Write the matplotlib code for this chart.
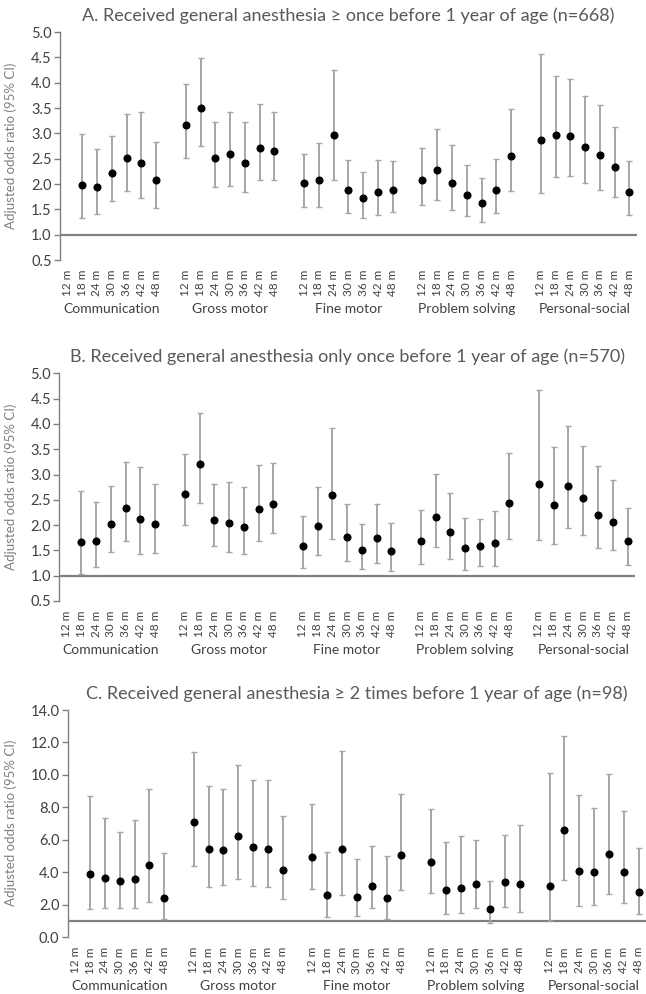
import numpy as np
import matplotlib
matplotlib.use('Agg')
import matplotlib.pyplot as plt
from matplotlib.transforms import blended_transform_factory

plt.rcParams['font.family'] = ['Lato', 'DejaVu Sans']

months = ['12 m', '18 m', '24 m', '30 m', '36 m', '42 m', '48 m']
domains = ['Communication', 'Gross motor', 'Fine motor', 'Problem solving', 'Personal-social']
nan = np.nan

# A. >= once (n=668)
a_or = [[nan, 1.99, 1.94, 2.22, 2.51, 2.42, 2.08],
        [3.17, 3.51, 2.51, 2.60, 2.42, 2.71, 2.66],
        [2.02, 2.07, 2.97, 1.88, 1.73, 1.84, 1.89],
        [2.08, 2.27, 2.03, 1.79, 1.62, 1.89, 2.55],
        [2.86, 2.97, 2.95, 2.74, 2.58, 2.33, 1.84]]
a_lo = [[nan, 1.32, 1.41, 1.66, 1.86, 1.72, 1.53],
        [2.52, 2.75, 1.95, 1.97, 1.84, 2.07, 2.07],
        [1.55, 1.54, 2.08, 1.43, 1.33, 1.38, 1.45],
        [1.59, 1.69, 1.49, 1.36, 1.25, 1.43, 1.87],
        [1.82, 2.14, 2.15, 2.03, 1.88, 1.74, 1.39]]
a_hi = [[nan, 2.99, 2.69, 2.95, 3.38, 3.43, 2.82],
        [3.98, 4.49, 3.22, 3.43, 3.23, 3.58, 3.43],
        [2.60, 2.81, 4.26, 2.47, 2.24, 2.47, 2.46],
        [2.71, 3.08, 2.77, 2.38, 2.11, 2.50, 3.49],
        [4.57, 4.13, 4.07, 3.73, 3.55, 3.13, 2.46]]

# B. only once (n=570)
b_or = [[nan, 1.66, 1.69, 2.02, 2.34, 2.12, 2.02],
        [2.61, 3.20, 2.11, 2.04, 1.97, 2.32, 2.42],
        [1.59, 1.98, 2.59, 1.77, 1.51, 1.74, 1.49],
        [1.68, 2.16, 1.87, 1.54, 1.58, 1.65, 2.43],
        [2.82, 2.39, 2.77, 2.53, 2.20, 2.07, 1.68]]
b_lo = [[nan, 1.03, 1.17, 1.47, 1.68, 1.43, 1.45],
        [2.01, 2.43, 1.58, 1.47, 1.42, 1.68, 1.84],
        [1.16, 1.41, 1.72, 1.30, 1.13, 1.26, 1.10],
        [1.23, 1.56, 1.33, 1.12, 1.19, 1.20, 1.73],
        [1.70, 1.63, 1.95, 1.80, 1.54, 1.50, 1.22]]
b_hi = [[nan, 2.68, 2.45, 2.78, 3.25, 3.14, 2.82],
        [3.40, 4.22, 2.82, 2.85, 2.76, 3.18, 3.22],
        [2.17, 2.76, 3.91, 2.41, 2.02, 2.41, 2.05],
        [2.30, 3.01, 2.64, 2.14, 2.12, 2.28, 3.42],
        [4.68, 3.54, 3.95, 3.57, 3.17, 2.89, 2.33]]

# C. >= 2 times (n=98)
c_or = [[nan, 3.92, 3.68, 3.45, 3.61, 4.46, 2.40],
        [7.08, 5.42, 5.40, 6.22, 5.54, 5.44, 4.17],
        [4.97, 2.61, 5.44, 2.51, 3.16, 2.40, 5.05],
        [4.64, 2.92, 3.06, 3.29, 1.75, 3.41, 3.26],
        [3.16, 6.61, 4.09, 4.00, 5.13, 4.02, 2.81]]
c_lo = [[nan, 1.77, 1.83, 1.81, 1.81, 2.18, 1.13],
        [4.41, 3.12, 3.20, 3.61, 3.16, 3.08, 2.34],
        [2.98, 1.27, 2.59, 1.31, 1.81, 1.15, 2.90],
        [2.75, 1.46, 1.52, 1.81, 0.90, 1.85, 1.54],
        [0.98, 3.53, 1.93, 2.01, 2.65, 2.14, 1.46]]
c_hi = [[nan, 8.73, 7.33, 6.49, 7.23, 9.16, 5.17],
        [11.40, 9.34, 9.14, 10.60, 9.69, 9.69, 7.45],
        [8.23, 5.26, 11.48, 4.83, 5.65, 5.01, 8.85],
        [7.91, 5.89, 6.22, 5.98, 3.47, 6.32, 6.92],
        [10.14, 12.40, 8.77, 7.99, 10.04, 7.76, 5.50]]

panels = [
    ('A. Received general anesthesia \u2265 once before 1 year of age (n=668)',
     a_or, a_lo, a_hi, (0.5, 5.0), np.arange(0.5, 5.01, 0.5),
     [0.0929, 0.7384, 0.893, 0.2294], 0.853),
    ('B. Received general anesthesia only once before 1 year of age (n=570)',
     b_or, b_lo, b_hi, (0.5, 5.0), np.arange(0.5, 5.01, 0.5),
     [0.0918, 0.3954, 0.891, 0.2290], 0.510),
    ('C. Received general anesthesia \u2265 2 times before 1 year of age (n=98)',
     c_or, c_lo, c_hi, (0.0, 14.0), np.arange(0.0, 14.01, 2.0),
     [0.1050, 0.0570, 0.895, 0.2287], 0.172),
]

fig = plt.figure(figsize=(6.46, 9.94), dpi=100)

x_pos = []
x_lab = []
for g in range(len(domains)):
    for i, m in enumerate(months):
        x_pos.append(g * 8 + i)
        x_lab.append(m)
x_pos = np.array(x_pos)

for title, v_or, v_lo, v_hi, ylim, yticks, rect, ylab_y in panels:
    ax = fig.add_axes(rect)
    y = np.array(v_or).ravel()
    lo = np.array(v_lo).ravel()
    hi = np.array(v_hi).ravel()
    ok = ~np.isnan(y)
    ax.errorbar(x_pos[ok], y[ok], yerr=[y[ok] - lo[ok], hi[ok] - y[ok]],
                fmt='o', color='black', ms=4.8, ecolor='#a6a6a6', elinewidth=1.4,
                capsize=2.4, capthick=1.0, zorder=3)
    ax.axhline(1.0, color='#808080', lw=1.6, zorder=2)

    ax.set_xlim(-0.5, 38.5)
    ax.set_ylim(*ylim)
    ax.set_yticks(yticks)
    ax.set_yticklabels([f'{t:.1f}' for t in yticks])
    ax.set_xticks(x_pos)
    ax.set_xticklabels(x_lab, rotation=90, fontsize=8.5, color='#404040')
    ax.tick_params(axis='x', length=0, pad=7)
    ax.tick_params(axis='y', direction='out', length=4, width=1, color='#808080',
                   labelsize=10.5, labelcolor='#404040', pad=2)
    for s in ['top', 'right', 'bottom']:
        ax.spines[s].set_visible(False)
    ax.spines['left'].set_color('#808080')
    ax.spines['left'].set_linewidth(1.0)
    ax.patch.set_alpha(0)

    trans = blended_transform_factory(ax.transData, ax.transAxes)
    for g, name in enumerate(domains):
        ax.annotate(name, xy=(g * 8 + 3, 0), xycoords=trans, xytext=(0, -35),
                    textcoords='offset points', ha='center', va='center',
                    fontsize=10, color='#404040')

    ax.set_title(title, fontsize=13, color='#595959', pad=8)
    fig.text(0.016, ylab_y, 'Adjusted odds ratio (95% CI)', rotation=90,
             ha='center', va='center', fontsize=9.5, color='#7f7f7f')

fig.savefig('out.png', dpi=100)
